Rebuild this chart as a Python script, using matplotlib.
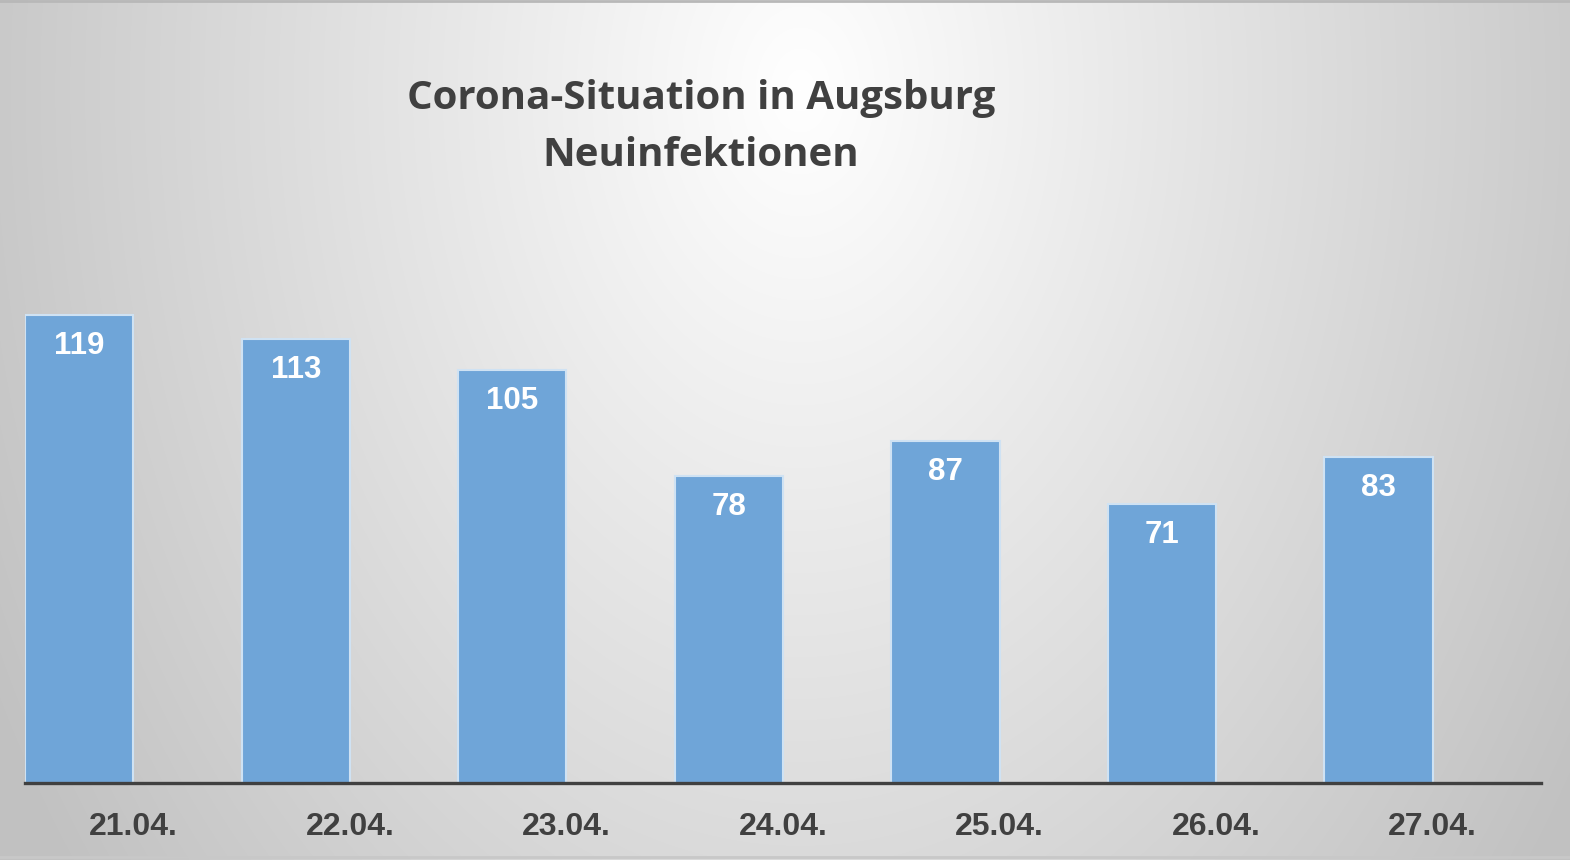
import numpy as np
import matplotlib.pyplot as plt

# data
dates = ["21.04.", "22.04.", "23.04.", "24.04.", "25.04.", "26.04.", "27.04."]
neuinfektionen = [119, 113, 105, 78, 87, 71, 83]

W, H = 1570, 860
fig = plt.figure(figsize=(W / 100, H / 100), dpi=100)

# radial gradient background, bright near the title
bg = fig.add_axes([0, 0, 1, 1])
yy, xx = np.mgrid[0:H, 0:W]
d = np.sqrt(((xx - 800) / 3800) ** 2 + ((yy - 90) / 5350) ** 2)
g = np.clip(1.0 - d, 0.76, 1.0)
bg.imshow(np.dstack([g, g, g]), aspect="auto", extent=(0, W, H, 0))
bg.plot([0, W], [1, 1], color="#b8b8b8", lw=2)
bg.plot([0, W], [H - 3, H - 3], color="#c8c8c8", lw=2)
bg.set_xlim(0, W)
bg.set_ylim(H, 0)
bg.axis("off")

ax = fig.add_axes([25 / W, 1 - 783 / H, (1541 - 25) / W, (783 - 232.4) / H])
ax.patch.set_alpha(0)
x = np.arange(len(dates))
bars = ax.bar(x + 0.25, neuinfektionen, width=0.5, color="#6fa5d8",
              edgecolor="#cfe2f3", linewidth=1.5)
for b, v in zip(bars, neuinfektionen):
    ax.text(b.get_x() + b.get_width() / 2, v - 7.9, str(v), ha="center", va="center",
            color="white", fontsize=22.5, fontweight="bold", family="Liberation Sans")

ax.set_xlim(0, len(dates))
ax.set_ylim(0, 140)
ax.set_yticks([])
ax.set_xticks(x + 0.5)
ax.set_xticklabels(dates, fontsize=23, fontweight="bold", color="#404040",
                   family="Liberation Sans")
ax.tick_params(axis="x", length=0, pad=21)
for s in ["top", "right", "left"]:
    ax.spines[s].set_visible(False)
ax.spines["bottom"].set_color("#404040")
ax.spines["bottom"].set_linewidth(2.4)

fig.text(701 / W, 1 - 127 / H, "Corona-Situation in Augsburg\nNeuinfektionen",
         ha="center", va="center", fontsize=29, fontweight="bold", color="#404040",
         family="Open Sans", linespacing=1.6)

fig.savefig("out.png", dpi=100)
